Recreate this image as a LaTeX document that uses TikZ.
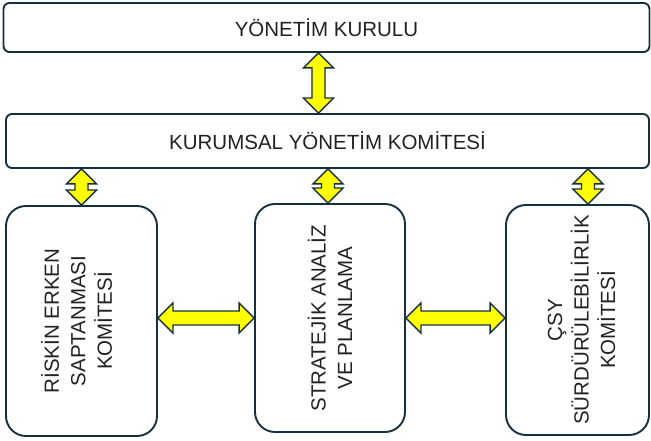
\documentclass[tikz,border=0pt]{standalone}
\usepackage{fontspec}
\setmainfont{Liberation Sans}
\usepackage{xcolor}
\usepackage{tikz}
\usetikzlibrary{calc,positioning}

\definecolor{boxline}{HTML}{17303F}
\definecolor{txt}{HTML}{222222}
\definecolor{arrowfill}{HTML}{FFFF00}

\tikzset{
  panel/.style={draw=boxline, line width=1.9pt, fill=white, text=txt},
  wide/.style={panel, rounded corners=6pt},
  tall/.style={panel, rounded corners=20pt},
  vtext/.style={rotate=90, align=center, text=txt},
  blockarrow/.style={draw=boxline, line width=1.4pt, fill=arrowfill, line join=miter}
}

% vertical double block arrow, #1 top point, #2 bottom point
\newcommand{\vlink}[2]{%
  \path[blockarrow] let \p1=#1, \p2=#2 in
    (\x1,\y1) -- (\x1+15pt,\y1-15pt) -- (\x1+6.5pt,\y1-15pt) -- (\x1+6.5pt,\y2+15pt)
    -- (\x1+15pt,\y2+15pt) -- (\x1,\y2) -- (\x1-15pt,\y2+15pt) -- (\x1-6.5pt,\y2+15pt)
    -- (\x1-6.5pt,\y1-15pt) -- (\x1-15pt,\y1-15pt) -- cycle;}
% horizontal double block arrow, #1 left point, #2 right point
\newcommand{\hlink}[2]{%
  \path[blockarrow] let \p1=#1, \p2=#2 in
    (\x1,\y1) -- (\x1+15pt,\y1+15pt) -- (\x1+15pt,\y1+7pt) -- (\x2-15pt,\y1+7pt)
    -- (\x2-15pt,\y1+15pt) -- (\x2,\y1) -- (\x2-15pt,\y1-15pt) -- (\x2-15pt,\y1-7pt)
    -- (\x1+15pt,\y1-7pt) -- (\x1+15pt,\y1-15pt) -- cycle;}

\begin{document}
\begin{tikzpicture}[x=1pt, y=-1pt, font=\fontsize{20.5}{26.5}\selectfont]
  \useasboundingbox (0,0) rectangle (651,441);

  \node[wide, minimum width=646, minimum height=49] (board) at (326.5,27.5) {YÖNETİM KURULU};
  \node[wide, minimum width=643, minimum height=54] (commit) at (327.5,141) {KURUMSAL YÖNETİM KOMİTESİ};

  \node[tall, minimum width=151, minimum height=230] (risk) at (81.5,321) {};
  \node[tall, minimum width=150, minimum height=228] (strat) at (330,318) {};
  \node[tall, minimum width=143, minimum height=230] (esg) at (577.5,320) {};

  \node[vtext] (risktext) at ([xshift=-5]risk.center) {RİSKİN ERKEN\\SAPTANMASI\\KOMİTESİ};
  \node[vtext] (strattext) at (strat.center) {STRATEJİK ANALİZ\\VE PLANLAMA};
  \node[vtext] (esgtext) at ([xshift=4]esg.center) {ÇSY\\SÜRDÜRÜLEBİLİRLİK\\KOMİTESİ};

  \vlink{([xshift=-8]board.south)}{([xshift=-8]board.south |- commit.north)}
  \vlink{(commit.south -| risk.north)}{(risk.north)}
  \vlink{([xshift=-2]commit.south -| strat.north)}{([xshift=-2]strat.north)}
  \vlink{([xshift=10.5]commit.south -| esg.north)}{([xshift=10.5]esg.north)}

  \hlink{(risk.east |- strat.west)}{(strat.west)}
  \hlink{(strat.east)}{(esg.west |- strat.east)}
\end{tikzpicture}
\end{document}
